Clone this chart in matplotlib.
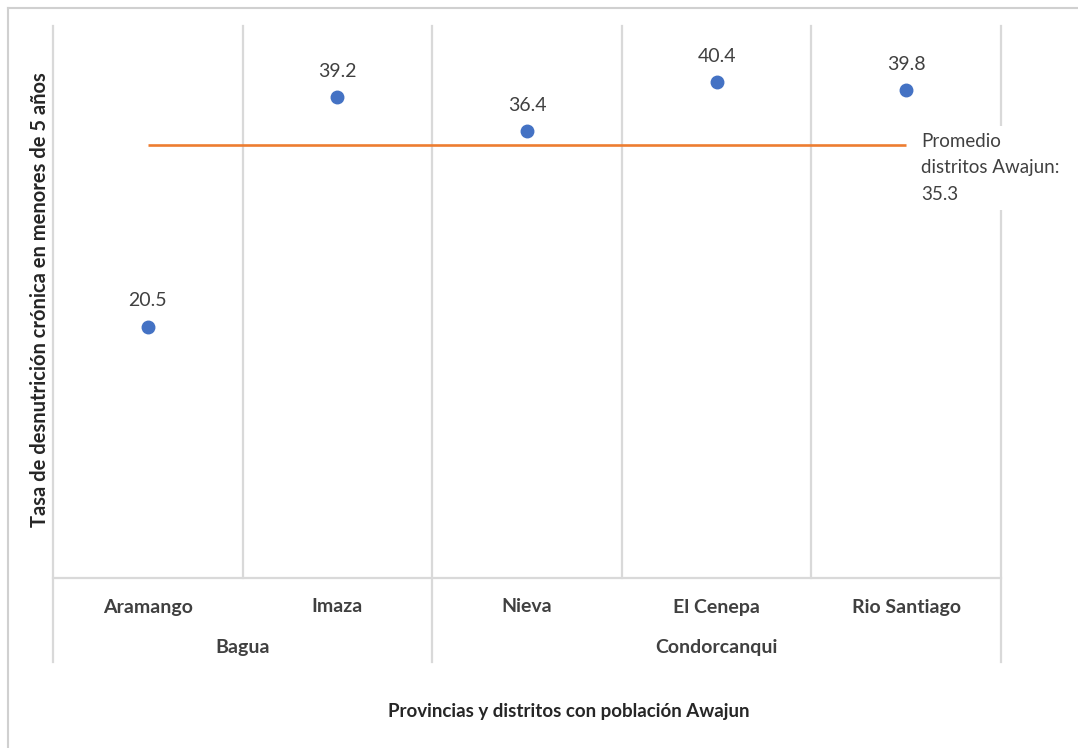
import matplotlib
matplotlib.use("Agg")
import matplotlib.pyplot as plt
from matplotlib.lines import Line2D
import matplotlib.transforms as mtransforms

plt.rcParams['font.family'] = ['Lato', 'DejaVu Sans']

districts = ["Aramango", "Imaza", "Nieva", "El Cenepa", "Rio Santiago"]
provinces = ["Bagua", "Condorcanqui"]
province_spans = [(0, 1), (2, 4)]  # first and last district index of each province
rates = [20.5, 39.2, 36.4, 40.4, 39.8]
average = 35.3
avg_label = "Promedio\ndistritos Awajun:\n" + f"{average}"

W, H = 1078, 748
fig = plt.figure(figsize=(W / 100, H / 100), dpi=100)
fig.patch.set_facecolor("white")

# plot area in pixel terms
x0, x1, y_bottom, y_top = 53, 1001, 578, 26
ax = fig.add_axes([x0 / W, (H - y_bottom) / H, (x1 - x0) / W, (y_bottom - y_top) / H])
ax.set_xlim(-0.5, len(districts) - 0.5)
ax.set_ylim(0, 45)
for s in ax.spines.values():
    s.set_visible(False)
ax.set_xticks([])
ax.set_yticks([])

grid_c = "#D9D9D9"
text_c = "#404040"
blend = mtransforms.blended_transform_factory(ax.transData, ax.transAxes)

# vertical separators between categories
ext = (y_bottom - 662) / (y_bottom - y_top)
group_edges = [-0.5] + [b + 0.5 for _, b in province_spans]
for i in range(len(districts) + 1):
    xb = i - 0.5
    ybot = ext if xb in group_edges else 0
    ax.add_line(Line2D([xb, xb], [ybot, 1], transform=blend, color=grid_c,
                       lw=1.6, clip_on=False, zorder=1))
# horizontal axis line
ax.add_line(Line2D([-0.5, len(districts) - 0.5], [0, 0], transform=blend,
                   color=grid_c, lw=1.6, clip_on=False, zorder=1))

# average line
ax.plot([0, len(districts) - 1], [average, average], color="#ED7D31", lw=1.9, zorder=2,
        solid_capstyle="butt")

# points and their values
ax.plot(range(len(districts)), rates, "o", color="#4472C4", ms=9, zorder=3)
for i, v in enumerate(rates):
    ax.annotate(f"{v}", (i, v), xytext=(0, 18.5), textcoords="offset points",
                ha="center", va="center", fontsize=14, color=text_c)

# average label
ax.annotate(avg_label, (len(districts) - 1, average), xytext=(11, -16.5),
            textcoords="offset points", ha="left", va="center", fontsize=13.5,
            color=text_c, linespacing=1.7,
            bbox=dict(boxstyle="square,pad=0.35", fc="white", ec="none"), zorder=4)

# category and group labels
cat_y = (y_bottom - 607) / (y_bottom - y_top)
grp_y = (y_bottom - 648) / (y_bottom - y_top)
for i, d in enumerate(districts):
    ax.text(i, cat_y, d, transform=blend, ha="center", va="center",
            fontsize=14, fontweight="bold", color=text_c)
for p, (a, b) in zip(provinces, province_spans):
    ax.text((a + b) / 2, grp_y, p, transform=blend, ha="center", va="center",
            fontsize=14, fontweight="bold", color=text_c)

# axis titles
fig.text(40 / W, 1 - 300 / H, "Tasa de desnutrición crónica en menores de 5 años",
         rotation=90, ha="center", va="center", fontsize=14.5, fontweight="bold",
         color="#262626")
fig.text(569 / W, 1 - 712 / H, "Provincias y distritos con población Awajun",
         ha="center", va="center", fontsize=13.5, fontweight="bold", color="#262626")

# outer frame (top and left edges)
fig.add_artist(Line2D([8 / W, 1], [1 - 8 / H, 1 - 8 / H], color="#D0D0D0", lw=1.5))
fig.add_artist(Line2D([8 / W, 8 / W], [0, 1 - 8 / H], color="#D0D0D0", lw=1.5))

fig.savefig("out.png", dpi=100, facecolor="white")
